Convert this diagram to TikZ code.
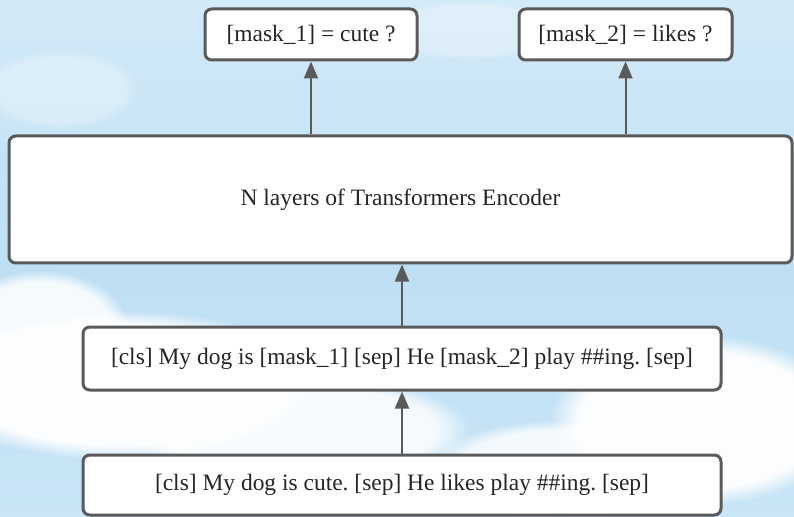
\documentclass[tikz,border=0pt]{standalone}
\usepackage{fontspec}
\setmainfont{Liberation Serif}
\usepackage{tikz}
\usetikzlibrary{arrows.meta,positioning,fadings}
\definecolor{skytop}{HTML}{D3EAF8}
\definecolor{skymid}{HTML}{BEDFF3}
\definecolor{skybot}{HTML}{C9E5F6}
\definecolor{edge}{HTML}{5A5A5A}
\frenchspacing

\tikzset{
  box/.style={draw=edge, line width=2.25pt, rounded corners=5pt, fill=white,
    font=\fontsize{17.6}{20}\selectfont, text=black!85, inner sep=0pt},
  arr/.style={draw=edge, line width=1.5pt, -{Triangle[length=12.75pt, width=10.5pt]}},
  cloud/.style={white, path fading=circle with fuzzy edge 20 percent}
}

\begin{document}
\begin{tikzpicture}[x=0.75pt, y=-0.75pt]
% sky
\shade[top color=skytop, bottom color=skybot, middle color=skymid] (0,0) rectangle (794,517);
\useasboundingbox (0,0) rectangle (794,517);
% clouds
\fill[cloud, opacity=0.95] (120,385) ellipse (200 and 75);
\fill[cloud, opacity=0.85] (40,330) ellipse (90 and 60);
\fill[cloud, opacity=0.85] (300,430) ellipse (170 and 55);
\fill[cloud, opacity=0.95] (700,420) ellipse (150 and 85);
\fill[cloud, opacity=0.8] (560,470) ellipse (130 and 50);
\fill[cloud, opacity=0.3] (60,90) ellipse (80 and 40);
\fill[cloud, opacity=0.3] (470,30) ellipse (90 and 30);
% outputs
\node[box, minimum width=159pt, minimum height=38.25pt] (m1) at (311,34.5) {[mask\_1] = cute ?};
\node[box, minimum width=159.75pt, minimum height=38.25pt] (m2) at (625.5,34.5) {[mask\_2] = likes ?};
% encoder
\node[box, minimum width=587.25pt, minimum height=95.25pt] (enc) at (400.5,199.5) {N layers of Transformers Encoder};
% inputs
\node[box, minimum width=478.5pt, minimum height=47.25pt] (mid) at (402,358.5) {[cls] My dog is [mask\_1] [sep] He [mask\_2] play \#\#ing. [sep]};
\node[box, minimum width=478.5pt, minimum height=45pt] (inp) at (402,485) {[cls] My dog is cute. [sep] He likes play \#\#ing. [sep]};
% connectors
\draw[arr] (m1.south |- enc.north) -- (m1.south);
\draw[arr] (m2.south |- enc.north) -- (m2.south);
\draw[arr] (mid.north) -- (mid.north |- enc.south);
\draw[arr] (inp.north) -- (mid.south);
\end{tikzpicture}
\end{document}
